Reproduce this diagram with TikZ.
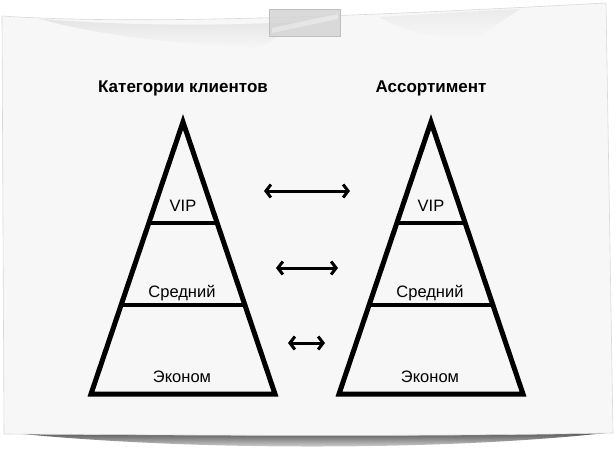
\documentclass[tikz,border=0pt]{standalone}
\usepackage{fontspec}
\setmainfont{Liberation Sans}
\usetikzlibrary{arrows.meta,calc,fadings}
\begin{document}
\begin{tikzpicture}[x=1pt,y=-1pt,
  tri/.style={line width=5pt,line join=miter,miter limit=20},
  level/.style={line width=4pt},
  dbl/.style={line width=3pt,{Straight Barb[length=5pt,width=13pt,line width=3pt]}-{Straight Barb[length=5pt,width=13pt,line width=3pt]}},
  title/.style={font=\fontsize{17}{20}\selectfont\bfseries,anchor=base,inner sep=0pt},
  lab/.style={font=\fontsize{16.5}{19}\selectfont,anchor=base,inner sep=0pt},
  paperfill/.style={fill=black!3}]
\useasboundingbox (0,0) rectangle (616,450);
\fill[white] (0,0) rectangle (616,450);
% bottom shadow
\shade[top color=black!65,bottom color=white,shading angle=0]
  (12,433) .. controls (200,452) and (450,450) .. (606,433) -- cycle;
% paper
\fill[paperfill,draw=black!15,line width=0.6pt]
  (2,16) .. controls (150,26) and (400,14) .. (606,3) -- (613,433)
  .. controls (400,437) and (200,435) .. (4,434) -- cycle;
% curl shading near the top edge
\fill[black!10,path fading=south]
  (40,19) .. controls (150,27) and (230,25) .. (300,22) -- (260,48) .. controls (180,44) and (100,36) .. cycle;
\fill[black!8,path fading=south]
  (380,17) .. controls (430,14) and (480,11) .. (520,9) -- (480,36) .. controls (440,38) and (410,36) .. cycle;
% tape
\fill[black!17,opacity=0.85] (269,9) rectangle (340,36);
\fill[white,opacity=0.35] (272,28) -- (338,14) -- (338,19) -- (272,33) -- cycle;
\draw[black!25,line width=0.5pt] (269,9) rectangle (340,36);

% titles
\node[title] (t1) at (183,92) {Категории клиентов};
\node[title] (t2) at (431,92) {Ассортимент};

% left pyramid
\coordinate (apL) at (183,122);
\coordinate (blL) at (91,394);
\coordinate (brL) at (275,394);
\draw[tri] (apL) -- (brL) -- (blL) -- cycle;
\coordinate (l1a) at ($(apL)!0.3713!(blL)$);
\coordinate (l1b) at ($(apL)!0.3713!(brL)$);
\coordinate (l2a) at ($(apL)!0.6728!(blL)$);
\coordinate (l2b) at ($(apL)!0.6728!(brL)$);
\draw[level] (l1a) -- (l1b);
\draw[level] (l2a) -- (l2b);
\node[lab] (vL) at (183,211) {VIP};
\node[lab] (mL) at (182,297) {Средний};
\node[lab] (eL) at (182,382) {Эконом};

% right pyramid
\coordinate (apR) at (431,122);
\coordinate (blR) at (339,394);
\coordinate (brR) at (523,394);
\draw[tri] (apR) -- (brR) -- (blR) -- cycle;
\coordinate (r1a) at ($(apR)!0.3713!(blR)$);
\coordinate (r1b) at ($(apR)!0.3713!(brR)$);
\coordinate (r2a) at ($(apR)!0.6728!(blR)$);
\coordinate (r2b) at ($(apR)!0.6728!(brR)$);
\draw[level] (r1a) -- (r1b);
\draw[level] (r2a) -- (r2b);
\node[lab] (vR) at (431,211) {VIP};
\node[lab] (mR) at (430,297) {Средний};
\node[lab] (eR) at (430,382) {Эконом};

% arrows
\coordinate (a1l) at (264,191);
\coordinate (a1r) at (350,191);
\coordinate (a2l) at (276,268);
\coordinate (a2r) at (338,268);
\coordinate (a3l) at (288,343);
\coordinate (a3r) at (325,343);
\draw[dbl] (a1l) -- (a1r);
\draw[dbl] (a2l) -- (a2r);
\draw[dbl] (a3l) -- (a3r);
\end{tikzpicture}
\end{document}
